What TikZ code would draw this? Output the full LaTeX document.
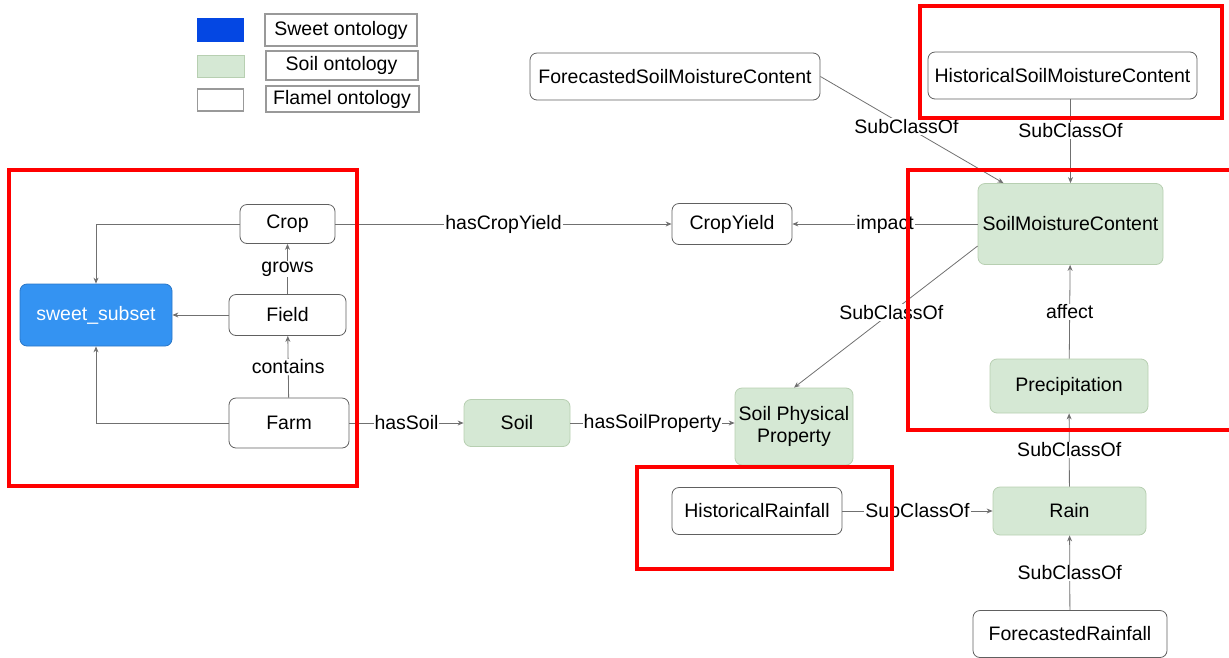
\documentclass[tikz,border=0pt]{standalone}
\usepackage{fontspec}
\setmainfont{Liberation Sans}
\usetikzlibrary{arrows.meta}
\definecolor{soilgreen}{HTML}{D5E8D4}
\definecolor{soilline}{HTML}{B7CFB1}
\definecolor{sweetblue}{HTML}{3493F2}
\definecolor{sweetline}{HTML}{2A76C6}
\definecolor{keyblue}{HTML}{0447E3}
\definecolor{linkgray}{HTML}{707070}
\tikzset{
  flamel/.style={draw=gray!75!black, fill=white, rounded corners=7pt, line width=0.8pt, inner xsep=2pt, align=center},
  soilnode/.style={draw=soilline, fill=soilgreen, rounded corners=7pt, line width=0.8pt, inner xsep=2pt, align=center},
  sweetnode/.style={draw=sweetline, fill=sweetblue, text=white, rounded corners=7pt, line width=0.8pt},
  keytext/.style={draw=gray!80, line width=2pt, fill=white, inner xsep=2pt},
  rel/.style={draw=linkgray, line width=0.8pt, -{Stealth[length=6pt,width=5pt]}},
  lbl/.style={fill=white, inner sep=1pt},
  redbox/.style={draw=red, line width=3.5pt}
}
\begin{document}
\begin{tikzpicture}[x=1pt, y=-1pt, every node/.style={font=\fontsize{19.5}{22}\selectfont}]
\useasboundingbox (0,0) rectangle (1229,657);

% legend
\node[fill=keyblue, minimum width=47pt, minimum height=24pt] (keysweet) at (220.5,30) {};
\node[fill=soilgreen, draw=soilline, minimum width=47pt, minimum height=22pt] (keysoil) at (220.5,66) {};
\node[draw=gray!80, line width=1.5pt, fill=white, minimum width=46pt, minimum height=22pt] (keyflamel) at (220.5,100) {};
\node[keytext, minimum width=152pt, minimum height=32pt] (txtsweet) at (341,30) {Sweet ontology};
\node[keytext, minimum width=152pt, minimum height=29pt] (txtsoil) at (341.5,65.5) {Soil ontology};
\node[keytext, minimum width=153pt, minimum height=26pt] (txtflamel) at (342,99) {Flamel ontology};

% farm part
\node[sweetnode, minimum width=152pt, minimum height=62pt] (sweet) at (96,315) {sweet\_subset};
\node[flamel, minimum width=95pt, minimum height=39pt] (crop) at (287.5,224) {Crop};
\node[flamel, minimum width=117pt, minimum height=41pt] (field) at (287.5,315) {Field};
\node[flamel, minimum width=120pt, minimum height=50pt] (farm) at (289,423) {Farm};
\node[soilnode, minimum width=106pt, minimum height=47pt] (soil) at (517,423) {Soil};
\node[soilnode, minimum width=118pt, minimum height=77pt] (spp) at (794,426.5) {Soil Physical\\Property};
\node[flamel, minimum width=120pt, minimum height=41pt] (cropyield) at (732,224) {CropYield};

% moisture part
\node[soilnode, minimum width=185pt, minimum height=81pt] (smc) at (1070.5,224) {SoilMoistureContent};
\node[flamel, minimum width=290pt, minimum height=47pt] (fsmc) at (675,76.5) {ForecastedSoilMoistureContent};
\node[flamel, minimum width=269pt, minimum height=47pt] (hsmc) at (1062.5,75.5) {HistoricalSoilMoistureContent};
\node[soilnode, minimum width=158pt, minimum height=54pt] (precip) at (1069,386) {Precipitation};
\node[soilnode, minimum width=153pt, minimum height=48pt] (rain) at (1069.5,511) {Rain};
\node[flamel, minimum width=170pt, minimum height=47pt] (hrain) at (757,511) {HistoricalRainfall};
\node[flamel, minimum width=194pt, minimum height=47pt] (frain) at (1070,634) {ForecastedRainfall};

\draw[rel] (field) -- (sweet);
\draw[rel] (crop.west) -| (sweet.north);
\draw[rel] (farm.west) -| (sweet.south);
\draw[rel] (field) -- node[lbl] {grows} (crop);
\draw[rel] (farm) -- node[lbl] {contains} (field);
\draw[rel] (crop) -- node[lbl] {hasCropYield} (cropyield);
\draw[rel] (smc) -- node[lbl] {impact} (cropyield);
\draw[rel] (farm) -- node[lbl] {hasSoil} (soil);
\draw[rel] (soil) -- node[lbl] {hasSoilProperty} (soil -| spp.west);
\draw[rel] ([yshift=-22pt]smc.west) -- node[lbl, pos=0.47] {SubClassOf} (spp.north);
\draw[rel] (fsmc.east) -- node[lbl, pos=0.47] {SubClassOf} ([xshift=-67pt]smc.north);
\draw[rel] (hsmc.south -| smc.north) -- node[lbl, pos=0.37] {SubClassOf} (smc.north);
\draw[rel] (precip) -- node[lbl] {affect} (smc);
\draw[rel] (rain) -- node[lbl] {SubClassOf} (precip);
\draw[rel] (hrain) -- node[lbl] {SubClassOf} (rain);
\draw[rel] (frain) -- node[lbl] {SubClassOf} (rain);

% highlighted areas
\draw[redbox] (9,170) rectangle (357,486);
\draw[redbox] (920,6) rectangle (1222,118);
\draw[redbox] (908,170) rectangle (1235,430);
\draw[redbox] (637,467) rectangle (892,569);
\end{tikzpicture}
\end{document}
